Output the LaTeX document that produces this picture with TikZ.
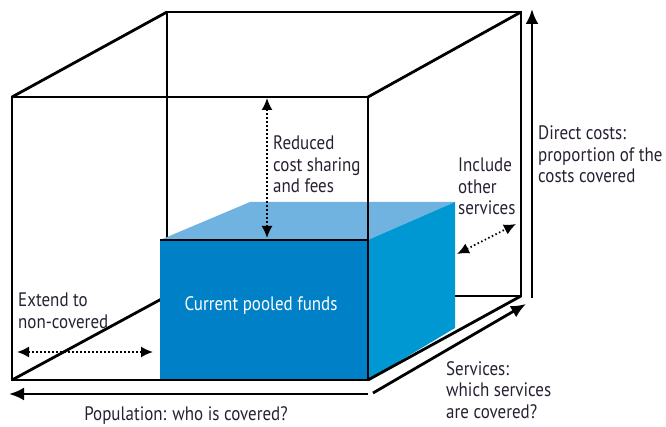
\documentclass[tikz,border=0pt]{standalone}
\usepackage{fontspec}
\setmainfont{PT Sans}[FakeStretch=0.87]
\usetikzlibrary{arrows.meta}
\definecolor{boxfront}{RGB}{0,128,198}
\definecolor{boxside}{RGB}{0,152,210}
\definecolor{boxtop}{RGB}{112,178,224}
\definecolor{txt}{RGB}{40,32,50}
\begin{document}
\begin{tikzpicture}[x=1pt,y=-1pt,
  edge/.style={line width=2.8pt, line join=miter},
  bigarrow/.style={line width=2.8pt, -{Latex[length=15pt,width=13pt]}},
  dotarrow/.style={line width=1.8pt, dash pattern=on 1.5pt off 2.5pt,
     {Latex[length=12pt,width=11pt]}-{Latex[length=12pt,width=11pt]}},
  lbl/.style={font=\fontsize{19.5}{21.5}\selectfont, inner sep=0pt, align=left, text=txt},
  thinedge/.style={line width=2pt}]
\useasboundingbox (0,0) rectangle (666,427);
% big cube corners
\coordinate (ftl) at (12,97);
\coordinate (ftr) at (368,97);
\coordinate (fbl) at (12,380);
\coordinate (fbr) at (368,380);
\coordinate (btl) at (167,12);
\coordinate (btr) at (521,12);
\coordinate (bbl) at (167,296);
\coordinate (bbr) at (521,296);
% back edges
\draw[edge] (btl) -- (btr) -- (bbr) -- (bbl) -- cycle;
\draw[edge] (ftl) -- (btl);
\draw[edge] (ftr) -- (btr);
\draw[edge] (fbl) -- (bbl);
% blue box corners
\coordinate (p1) at (160,240);
\coordinate (p2) at (368,240);
\coordinate (p3) at (368,380);
\coordinate (p4) at (160,380);
\coordinate (q1) at (250,202);
\coordinate (q2) at (455,202);
\coordinate (q3) at (455,328);
\fill[boxtop] (p1) -- (q1) -- (q2) -- (p2) -- cycle;
\fill[boxside] (p2) -- (q2) -- (q3) -- (p3) -- cycle;
\fill[boxfront] (p1) rectangle (p3);
\draw[thinedge] (p1) -- (p2);
% front face
\draw[edge] (ftl) rectangle (fbr);
\draw[edge] (fbr) -- (bbr);
\node[lbl, text=white, anchor=base] (funds) at (261,310) {Current pooled funds};
% arrows
\coordinate (popR) at (368,394);
\coordinate (popL) at (9,394);
\draw[bigarrow] (popR) -- (popL);
\coordinate (srvA) at (373,393);
\coordinate (srvB) at (526,304);
\draw[bigarrow] (srvA) -- (srvB);
\coordinate (dcA) at (532,298);
\coordinate (dcB) at (532,9);
\draw[bigarrow] (dcA) -- (dcB);
\coordinate (redT) at (267,98);
\coordinate (redB) at (267,238);
\draw[dotarrow] (redT) -- (redB);
\coordinate (incA) at (457,254);
\coordinate (incB) at (516,224);
\draw[dotarrow] (incA) -- (incB);
\coordinate (extL) at (17,352);
\coordinate (extR) at (153,352);
\draw[dotarrow] (extL) -- (extR);
% labels (base anchor = baseline of the last line)
\node[lbl, anchor=base west] (reduced) at (273,193) {Reduced\\cost sharing\\and fees};
\node[lbl, anchor=base west] (include) at (458,215) {Include\\other\\services};
\node[lbl, anchor=base west] (direct) at (538,183) {Direct costs:\\proportion of the\\costs covered};
\node[lbl, anchor=base west] (extend) at (18,328) {Extend to\\non-covered};
\node[lbl, anchor=base west] (services) at (446,418) {Services:\\which services\\are covered?};
\node[lbl, anchor=base] (population) at (186,420) {Population: who is covered?};
\end{tikzpicture}
\end{document}
